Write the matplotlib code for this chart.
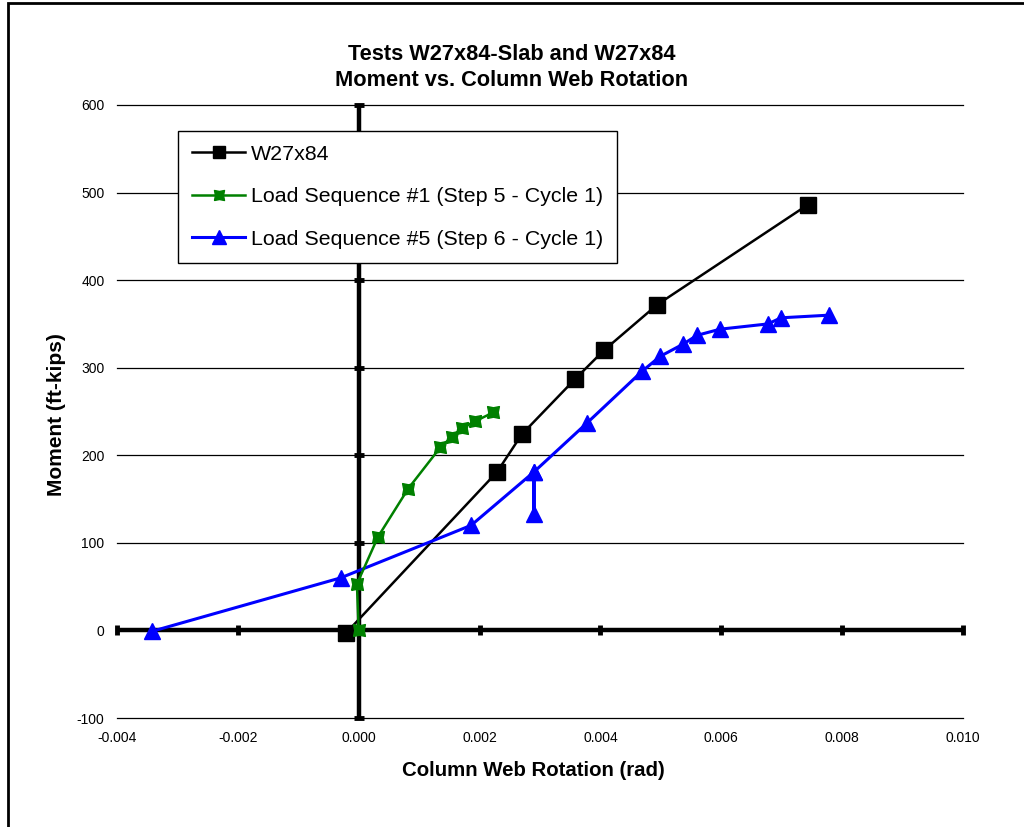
import numpy as np
import matplotlib.pyplot as plt
from matplotlib.patches import Rectangle

plt.rcParams['font.family'] = ['Liberation Sans', 'DejaVu Sans']

# W27x84 (rotation rad, moment ft-kips)
rot_w = [-0.00021, 0.00229, 0.00270, 0.00358, 0.00406, 0.00494, 0.00743]
mom_w = [-3, 181, 224, 287, 320, 372, 486]

# Load Sequence #1 (Step 5 - Cycle 1)
rot_1 = [0.0000, -0.00003, 0.00032, 0.00082, 0.00135, 0.00154, 0.00171, 0.00193, 0.00223]
mom_1 = [1, 53, 107, 162, 209, 221, 231, 239, 249]

# Load Sequence #5 (Step 6 - Cycle 1)
rot_5 = [-0.00342, -0.00030, 0.00186, 0.00290, 0.00290, 0.00290, 0.00378, 0.00469,
         0.00499, 0.00537, 0.00560, 0.00598, 0.00677, 0.00699, 0.00778]
mom_5 = [-1, 60, 120, 181, 133, 181, 237, 296, 313, 327, 337, 344, 350, 357, 360]

xticks = [-0.004, -0.002, 0.000, 0.002, 0.004, 0.006, 0.008, 0.010]
xlabels = ["-0.004", "-0.002", "0.000", "0.002", "0.004", "0.006", "0.008", "0.010"]
yticks = [-100, 0, 100, 200, 300, 400, 500, 600]
ylabels = ["-100", "0", "100", "200", "300", "400", "500", "600"]

fig = plt.figure(figsize=(10.24, 8.27), dpi=100)
ax = fig.add_axes([117/1024, 1 - 718/827, 846/1024, 613/827])
ax.set_xlim(-0.004, 0.010)
ax.set_ylim(-100, 600)

for s in ax.spines.values():
    s.set_visible(False)
ax.set_xticks(xticks)
ax.set_xticklabels(xlabels)
ax.set_yticks(yticks)
ax.set_yticklabels(ylabels)
ax.tick_params(length=0, labelsize=10, pad=9)
ax.grid(axis='y', color='black', lw=0.9)
for gl in ax.yaxis.get_gridlines():
    gl.set_clip_on(False)
ax.set_axisbelow(True)

# Excel style axes crossing at the origin
ax.axhline(0, color='black', lw=3.2, zorder=1.5)
ax.axvline(0, color='black', lw=3.2, zorder=1.5)
ax.plot(xticks, np.zeros(len(xticks)), ls='none', marker='|', ms=7, mew=3.5,
        color='black', clip_on=False, zorder=1.6)
ax.plot(np.zeros(len(yticks)), yticks, ls='none', marker='_', ms=7, mew=3.5,
        color='black', clip_on=False, zorder=1.6)

star = [(-1, -1), (0, -0.8), (1, -1), (0.8, 0), (1, 1), (0, 0.8), (-1, 1), (-0.8, 0), (-1, -1)]

ax.plot(rot_w, mom_w, color='black', lw=1.8, marker='s', ms=11,
        label='W27x84', zorder=3)
ax.plot(rot_1, mom_1, color='green', lw=1.8, marker=star, ms=8.5,
        label='Load Sequence #1 (Step 5 - Cycle 1)', zorder=4)
ax.plot(rot_5, mom_5, color='blue', lw=2.2, marker='^', ms=12,
        label='Load Sequence #5 (Step 6 - Cycle 1)', zorder=3)

leg = ax.legend(loc='upper left', bbox_to_anchor=(0.072, 0.958), borderaxespad=0,
                fontsize=15.4, fancybox=False, framealpha=1, edgecolor='black',
                handlelength=2.5, labelspacing=1.1, handletextpad=0.25,
                borderpad=0.65, markerscale=0.85)
leg.get_frame().set_linewidth(1)

fig.text(512/1024, 1 - 54/827, "Tests W27x84-Slab and W27x84", ha='center', va='center',
         fontsize=15.7, fontweight='bold')
fig.text(512/1024, 1 - 81/827, "Moment vs. Column Web Rotation", ha='center', va='center',
         fontsize=15.7, fontweight='bold')
fig.text(533/1024, 1 - 770/827, "Column Web Rotation (rad)", ha='center', va='center',
         fontsize=14.7, fontweight='bold')
fig.text(57/1024, 1 - 415/827, "Moment (ft-kips)", ha='center', va='center',
         rotation=90, fontsize=15, fontweight='bold')

fig.patches.append(Rectangle((8/1024, -0.1), 1.2, 1.1 - 3/827, transform=fig.transFigure,
                             fill=False, edgecolor='black', lw=2))

fig.savefig('out.png', dpi=100)
